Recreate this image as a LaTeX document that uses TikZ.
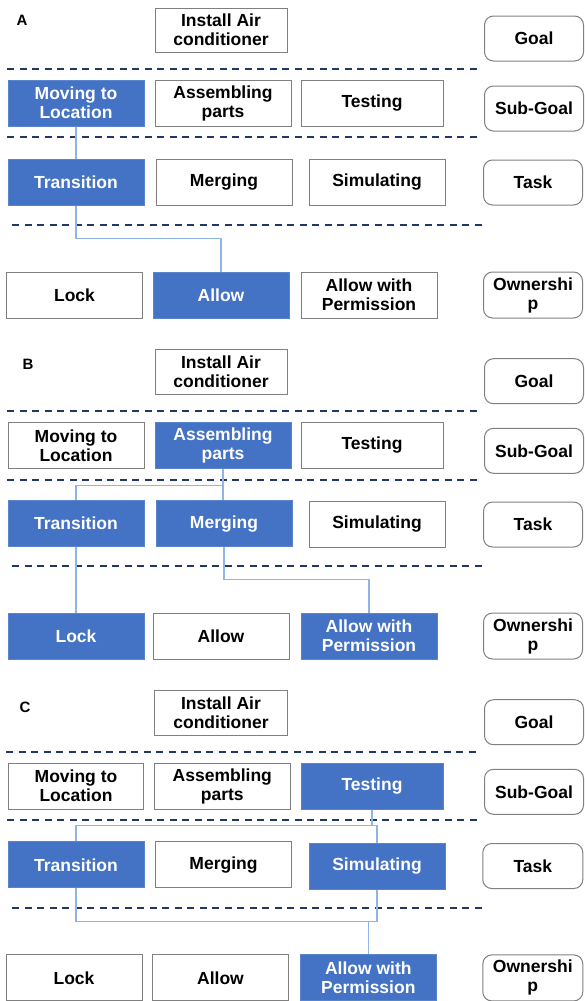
\documentclass[tikz,border=0pt]{standalone}
\usepackage{fontspec}
\setmainfont{Liberation Sans}
\definecolor{bfill}{HTML}{4472C4}
\definecolor{bedge}{HTML}{5A84CE}
\definecolor{bgray}{HTML}{808080}
\definecolor{navy}{HTML}{203864}
\definecolor{cblue}{HTML}{8FB4E6}
\begin{document}
\begin{tikzpicture}[x=1pt,y=-1pt,
  bx/.style={draw=bgray, line width=1pt, fill=white, text=black, inner sep=0pt, align=center,
    font=\bfseries\fontsize{17.5}{19}\selectfont, minimum width=136pt, minimum height=46pt},
  hi/.style={fill=bfill, draw=bedge, text=white},
  rb/.style={bx, rounded corners=9pt, minimum width=99pt, minimum height=45pt},
  conn/.style={draw=cblue, line width=1.1pt},
  sep/.style={draw=navy, line width=2pt, dash pattern=on 7pt off 5.5pt},
  lbl/.style={font=\bfseries\fontsize{15}{18}\selectfont, inner sep=0pt}]
\useasboundingbox (0,0) rectangle (584,1001);

% ---------------- Panel A ----------------
\node[lbl] (A-lab) at (22,20) {A};
\node[bx, minimum width=132pt, minimum height=44pt] (A-goal) at (221,30) {Install Air\\conditioner};
\node[rb] (A-goalL) at (534,38.5) {Goal};
\draw[sep] (7,69) -- (479,69);
\node[bx,hi] (A-move) at (76,103) {Moving to\\Location};
\node[bx] (A-asm) at (223,103) {Assembling\\parts};
\node[bx, minimum width=142pt] (A-test) at (372,103) {Testing};
\node[rb] (A-subL) at (534,108.5) {Sub-Goal};
\draw[sep] (7,137.3) -- (480,137.3);
\node[bx,hi] (A-trans) at (76,182) {Transition};
\node[bx] (A-merge) at (224,182) {Merging};
\node[bx] (A-sim) at (377,182.5) {Simulating};
\node[rb] (A-taskL) at (533,182.5) {Task};
\draw[sep] (12,225.3) -- (483,225.3);
\node[bx] (A-lock) at (74.5,295) {Lock};
\node[bx,hi] (A-allow) at (221,295) {Allow};
\node[bx] (A-awp) at (369,295) {Allow with\\Permission};
\node[rb, minimum height=46pt] (A-ownL) at (533,295) {Ownershi\\p};
\coordinate (A-y) at (0,238.7);
\draw[conn] (A-move) -- (A-trans);
\draw[conn] (A-trans.south) -- (A-trans.south |- A-y) -| (A-allow.north);

% ---------------- Panel B ----------------
\node[lbl] (B-lab) at (28,364) {B};
\node[bx, minimum width=132pt, minimum height=45pt] (B-goal) at (221,371.8) {Install Air\\conditioner};
\node[rb] (B-goalL) at (534,381.2) {Goal};
\draw[sep] (7,411) -- (479,411);
\node[bx] (B-move) at (76,445.3) {Moving to\\Location};
\node[bx,hi] (B-asm) at (223,445.3) {Assembling\\parts};
\node[bx, minimum width=142pt] (B-test) at (372,445.3) {Testing};
\node[rb] (B-subL) at (534,450.8) {Sub-Goal};
\draw[sep] (7,479.7) -- (480,479.7);
\node[bx,hi] (B-trans) at (76,523.7) {Transition};
\node[bx,hi] (B-merge) at (224,523.7) {Merging};
\node[bx] (B-sim) at (377,524.5) {Simulating};
\node[rb] (B-taskL) at (533,524.5) {Task};
\draw[sep] (12,566) -- (483,566);
\node[bx,hi] (B-lock) at (76,636) {Lock};
\node[bx] (B-allow) at (221,636) {Allow};
\node[bx,hi] (B-awp) at (369,636) {Allow with\\Permission};
\node[rb, minimum height=46pt] (B-ownL) at (533,636) {Ownershi\\p};
\coordinate (B-y1) at (0,485.3);
\coordinate (B-y2) at (0,579.3);
\draw[conn] (B-asm.south) -- (B-asm.south |- B-merge.north);
\draw[conn] (B-asm.south |- B-y1) -| (B-trans.north);
\draw[conn] (B-trans) -- (B-lock);
\draw[conn] (B-merge.south) -- (B-merge.south |- B-y2) -| (B-awp.north);

% ---------------- Panel C ----------------
\node[lbl] (C-lab) at (25,707.3) {C};
\node[bx, minimum width=133pt, minimum height=45pt] (C-goal) at (221,712.7) {Install Air\\conditioner};
\node[rb] (C-goalL) at (534,722.2) {Goal};
\draw[sep] (6,751.7) -- (478,751.7);
\node[bx, minimum width=135pt] (C-move) at (76,786.2) {Moving to\\Location};
\node[bx] (C-asm) at (222.3,786.2) {Assembling\\parts};
\node[bx,hi, minimum width=142pt] (C-test) at (372,786.2) {Testing};
\node[rb] (C-subL) at (534,791.8) {Sub-Goal};
\draw[sep] (7,820.3) -- (480,820.3);
\node[bx,hi] (C-trans) at (76,864.9) {Transition};
\node[bx] (C-merge) at (223.5,864.9) {Merging};
\node[bx,hi] (C-sim) at (377,866) {Simulating};
\node[rb, minimum width=100pt] (C-taskL) at (532.8,866) {Task};
\draw[sep] (12,908) -- (483,908);
\node[bx] (C-lock) at (74,977.9) {Lock};
\node[bx] (C-allow) at (220.5,977.9) {Allow};
\node[bx,hi] (C-awp) at (368.3,977.9) {Allow with\\Permission};
\node[rb, minimum width=100pt, minimum height=46pt] (C-ownL) at (532.8,977.9) {Ownershi\\p};
\coordinate (C-y1) at (0,825.7);
\coordinate (C-y2) at (0,921.5);
\draw[conn] (C-test.south) -- (C-test.south |- C-y1);
\draw[conn] (C-trans.north) -- (C-trans.north |- C-y1) -- (C-sim.north |- C-y1) -- (C-sim.north);
\draw[conn] (C-trans.south) -- (C-trans.south |- C-y2) -- (C-sim.south |- C-y2) -- (C-sim.south);
\draw[conn] (C-awp.north |- C-y2) -- (C-awp.north);
\end{tikzpicture}
\end{document}
